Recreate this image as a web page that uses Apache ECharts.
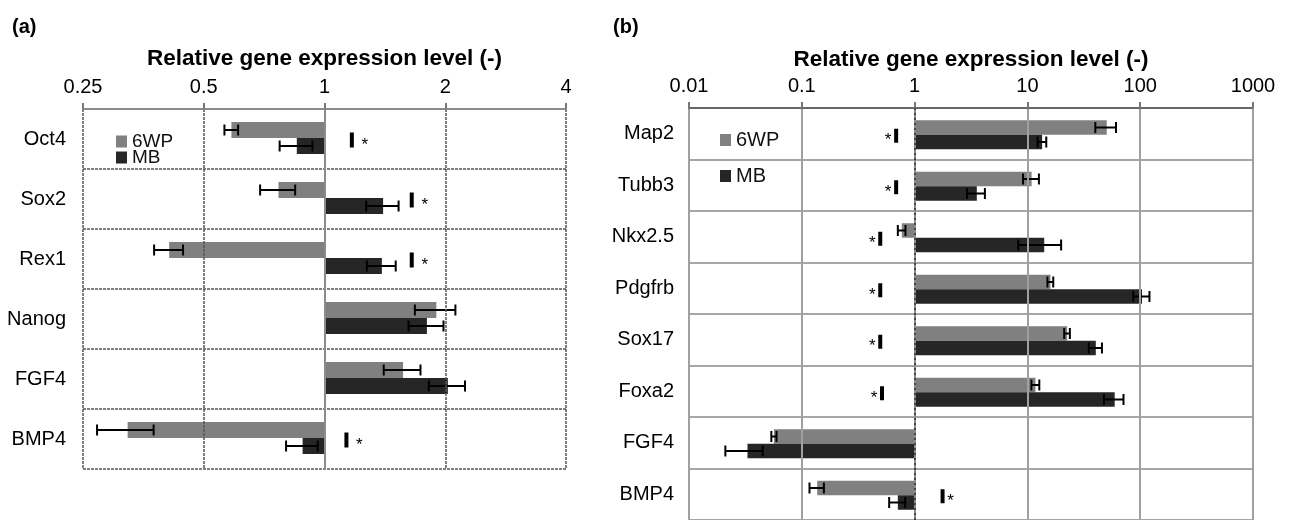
<!DOCTYPE html>
<html>
<head>
<meta charset="utf-8">
<script src="https://cdn.jsdelivr.net/npm/echarts@6/dist/echarts.min.js"></script>
<style>
html, body { margin: 0; padding: 0; background: #fff; }
#chart { width: 1290px; height: 520px; }
</style>
</head>
<body>
<div id="chart"></div>
<script>
// panel (a) - pluripotency markers, log2 axis
var genesA = ['Oct4', 'Sox2', 'Rex1', 'Nanog', 'FGF4', 'BMP4'];
var wpA = [0.586, 0.768, 0.41, 1.90, 1.57, 0.323];
var wpErrA = [0.023, 0.077, 0.034, 0.22, 0.165, 0.052];
var mbA = [0.853, 1.40, 1.39, 1.80, 2.03, 0.882];
var mbErrA = [0.08, 0.13, 0.115, 0.18, 0.21, 0.08];
var sigA = [1.17, 1.65, 1.65, null, null, 1.134];
var ticksA = [0.25, 0.5, 1, 2, 4];

// panel (b) - differentiation markers, log10 axis
var genesB = ['Map2', 'Tubb3', 'Nkx2.5', 'Pdgfrb', 'Sox17', 'Foxa2', 'FGF4', 'BMP4'];
var wpB = [50.5, 10.9, 0.77, 16.0, 22.5, 11.8, 0.0567, 0.137];
var wpErrB = [10.5, 1.75, 0.06, 0.95, 1.3, 0.95, 0.003, 0.02];
var mbB = [13.5, 3.56, 14.1, 103.8, 40.4, 59.4, 0.033, 0.71];
var mbErrB = [1.2, 0.64, 5.8, 17, 5.4, 11.7, 0.012, 0.115];
var sigB = [0.686, 0.686, 0.496, 0.496, 0.496, 0.514, null, 1.77];
var starSideB = [-1, -1, -1, -1, -1, -1, 0, 1];
var ticksB = [0.01, 0.1, 1, 10, 100, 1000];

var FONT = 'Liberation Sans, Arial, sans-serif';
var GRAY = '#808080', DARK = '#262626';

function toData(vals, errs) {
	return vals.map(function (v, i) { return [v, i, errs[i]]; });
}
function toSig(vals, sides) {
	var out = [];
	vals.forEach(function (v, i) {
		if (v != null) out.push([v, i, sides ? sides[i] : 1]);
	});
	return out;
}
function plainNum(v) {
	return String(+(+v).toPrecision(6));
}

// bar from 1 to value + error whisker
function barItem(upper, thick, shift, cap) {
	return function (params, api) {
		var v = api.value(0), i = api.value(1), e = api.value(2);
		var end = api.coord([v, i]);
		var base = api.coord([1, i]);
		var y0 = end[1] + shift - (upper ? thick : 0);
		var yc = y0 + thick / 2;
		var lo = api.coord([v - e, i])[0];
		var hi = api.coord([v + e, i])[0];
		var ls = { stroke: '#000', lineWidth: 2 };
		return {
			type: 'group',
			children: [
				{ type: 'rect', shape: { x: Math.min(base[0], end[0]), y: y0, width: Math.abs(end[0] - base[0]), height: thick },
				  style: { fill: api.visual('color') } },
				{ type: 'line', shape: { x1: lo, y1: yc, x2: hi, y2: yc }, style: ls },
				{ type: 'line', shape: { x1: lo, y1: yc - cap / 2, x2: lo, y2: yc + cap / 2 }, style: ls },
				{ type: 'line', shape: { x1: hi, y1: yc - cap / 2, x2: hi, y2: yc + cap / 2 }, style: ls }
			]
		};
	};
}

// significance: small black bar + asterisk
function sigItem(h, dx, dy) {
	return function (params, api) {
		var p = api.coord([api.value(0), api.value(1)]);
		var side = api.value(2);
		var y = p[1] + dy;
		return {
			type: 'group',
			children: [
				{ type: 'rect', shape: { x: p[0] - 2, y: y - h / 2, width: 4, height: h }, style: { fill: '#000' } },
				{ type: 'text', style: { text: '*', x: p[0] + side * dx, y: y + 5, fontSize: 17, fontFamily: FONT,
				  align: 'center', verticalAlign: 'middle', fill: '#000' } }
			]
		};
	};
}

function legendItem(name, left, top, size) {
	return { data: [name], left: left, top: top, padding: 0, itemWidth: 11, itemHeight: 12,
		icon: 'rect', textStyle: { fontSize: size, color: '#111', fontFamily: FONT } };
}

function oneLine(xi, color, type) {
	return { type: 'line', xAxisIndex: xi, yAxisIndex: xi, data: [], silent: true,
		markLine: { silent: true, symbol: 'none', label: { show: false },
			lineStyle: { color: color, width: 2, type: type }, data: [{ xAxis: 1 }] } };
}

var chart = echarts.init(document.getElementById('chart'));

var option = {
	animation: false,
	textStyle: { fontFamily: FONT },
	title: [
		{ text: '(a)', left: 7, top: 12, textStyle: { fontSize: 20, fontWeight: 'bold', color: '#000', fontFamily: FONT } },
		{ text: '(b)', left: 608, top: 12, textStyle: { fontSize: 20, fontWeight: 'bold', color: '#000', fontFamily: FONT } }
	],
	legend: [
		legendItem('6WP', 116, 132, 19),
		legendItem('MB', 116, 148, 19),
		legendItem('6WP', 720, 130, 20),
		legendItem('MB', 720, 166, 20)
	],
	grid: [
		{ left: 83, top: 109, width: 483, height: 360 },
		{ left: 689, top: 108, width: 564, height: 413 }
	],
	xAxis: [
		{
			gridIndex: 0, type: 'log', logBase: 2, min: ticksA[0], max: ticksA[ticksA.length - 1], position: 'top', z: 3,
			name: 'Relative gene expression level (-)', nameLocation: 'middle', nameGap: 39,
			nameTextStyle: { fontSize: 22.5, fontWeight: 'bold', color: '#000', fontFamily: FONT },
			axisLine: { show: true, lineStyle: { color: '#8c8c8c', width: 2 } },
			axisTick: { show: true, length: 6, lineStyle: { color: '#777', width: 2 } },
			axisLabel: { fontSize: 20, color: '#000', margin: 12, fontFamily: FONT, formatter: plainNum },
			splitLine: { show: true, lineStyle: { color: '#555', width: 1.5, type: [3, 1] } }
		},
		{
			gridIndex: 1, type: 'log', logBase: 10, min: ticksB[0], max: ticksB[ticksB.length - 1], position: 'top', z: 3,
			name: 'Relative gene expression level (-)', nameLocation: 'middle', nameGap: 36,
			nameTextStyle: { fontSize: 22.5, fontWeight: 'bold', color: '#000', fontFamily: FONT },
			axisLine: { show: true, lineStyle: { color: '#666', width: 2, type: [3, 1] } },
			axisTick: { show: true, length: 6, lineStyle: { color: '#777', width: 2 } },
			axisLabel: { fontSize: 20, color: '#000', margin: 12, fontFamily: FONT, formatter: plainNum },
			splitLine: { show: true, lineStyle: { color: '#a0a0a0', width: 2 } }
		}
	],
	yAxis: [
		{
			gridIndex: 0, type: 'category', data: genesA, inverse: true,
			axisLine: { show: false }, axisTick: { show: false },
			axisLabel: { fontSize: 20, color: '#000', margin: 17, fontFamily: FONT },
			splitLine: { show: true, showMinLine: false, lineStyle: { color: '#555', width: 1.5, type: [3, 1] } }
		},
		{
			gridIndex: 1, type: 'category', data: genesB, inverse: true,
			axisLine: { show: false }, axisTick: { show: false },
			axisLabel: { fontSize: 20, color: '#000', margin: 15, fontFamily: FONT },
			splitLine: { show: true, showMinLine: false, lineStyle: { color: '#a6a6a6', width: 2 } }
		}
	],
	series: [
		oneLine(0, '#8c8c8c', 'solid'),
		oneLine(1, '#8a8a8a', 'solid'),
		oneLine(1, '#444', [2, 3]),

		{ name: '6WP', type: 'custom', xAxisIndex: 0, yAxisIndex: 0, itemStyle: { color: GRAY },
		  encode: { x: 0, y: 1 }, renderItem: barItem(true, 16, -1, 11), data: toData(wpA, wpErrA) },
		{ name: 'MB', type: 'custom', xAxisIndex: 0, yAxisIndex: 0, itemStyle: { color: DARK },
		  encode: { x: 0, y: 1 }, renderItem: barItem(false, 16, -1, 11), data: toData(mbA, mbErrA) },
		{ name: 'sigA', type: 'custom', xAxisIndex: 0, yAxisIndex: 0, silent: true,
		  encode: { x: 0, y: 1 }, renderItem: sigItem(15, 13, 1), data: toSig(sigA) },

		{ name: '6WP', type: 'custom', xAxisIndex: 1, yAxisIndex: 1, itemStyle: { color: GRAY },
		  encode: { x: 0, y: 1 }, renderItem: barItem(true, 14.5, 1, 11), data: toData(wpB, wpErrB) },
		{ name: 'MB', type: 'custom', xAxisIndex: 1, yAxisIndex: 1, itemStyle: { color: DARK },
		  encode: { x: 0, y: 1 }, renderItem: barItem(false, 14.5, 1, 11), data: toData(mbB, mbErrB) },
		{ name: 'sigB', type: 'custom', xAxisIndex: 1, yAxisIndex: 1, silent: true,
		  encode: { x: 0, y: 1 }, renderItem: sigItem(14, 8, 2), data: toSig(sigB, starSideB) }
	]
};

chart.setOption(option);
</script>
</body>
</html>
